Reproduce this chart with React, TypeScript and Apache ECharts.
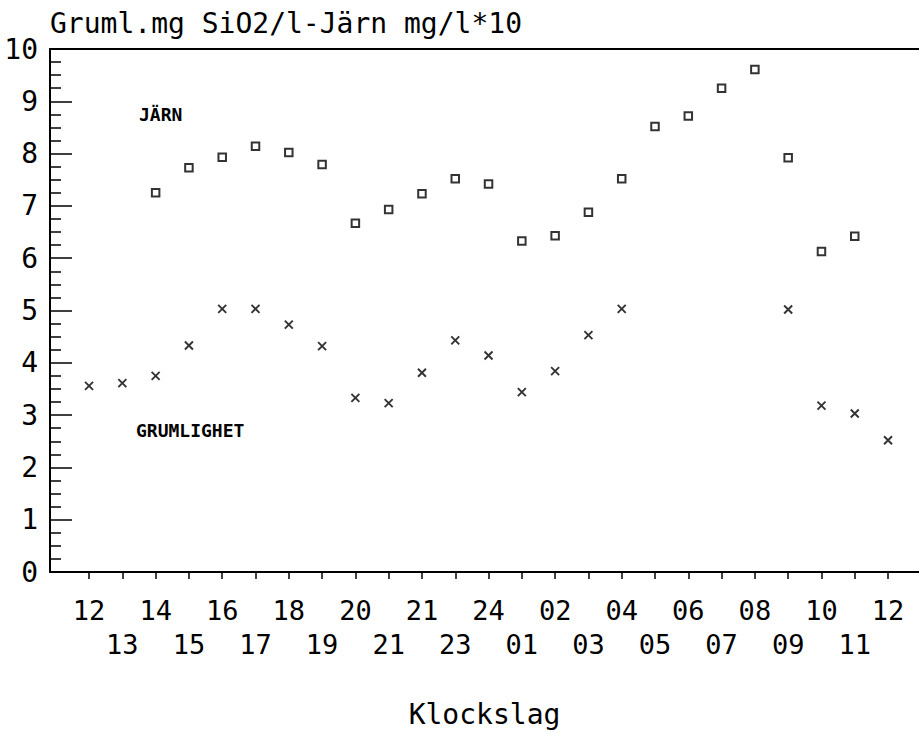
import React, { useEffect, useRef } from "react";
import * as echarts from "echarts";

const hourLabels = ["12", "13", "14", "15", "16", "17", "18", "19", "20", "21", "21", "23", "24", "01", "02", "03", "04", "05", "06", "07", "08", "09", "10", "11", "12"];
const jarnValues = [null, null, 7.25, 7.73, 7.93, 8.14, 8.02, 7.79, 6.67, 6.93, 7.23, 7.52, 7.42, 6.33, 6.43, 6.88, 7.52, 8.52, 8.72, 9.25, 9.61, 7.92, 6.13, 6.42, null];
const grumlighetValues = [3.56, 3.61, 3.75, 4.33, 5.03, 5.03, 4.73, 4.32, 3.33, 3.23, 3.81, 4.43, 4.14, 3.44, 3.84, 4.53, 5.03, null, null, null, null, 5.02, 3.18, 3.03, 2.52];
const yTicks = [0, 1, 2, 3, 4, 5, 6, 7, 8, 9, 10];

const MONO = "DejaVu Sans Mono";

function toPoints(vals: (number | null)[]) {
  const out: [number, number][] = [];
  vals.forEach((v, i) => {
    if (v !== null) out.push([i, v]);
  });
  return out;
}

export default function App() {
  const ref = useRef<HTMLDivElement>(null);
  useEffect(() => {
    if (!ref.current) return;
    const chart = echarts.init(ref.current, null, { renderer: "svg" });
    const idx = hourLabels.map((_, i) => i);
    const option: any = {
      animation: false,
      backgroundColor: "#fff",
      title: {
        text: "Gruml.mg SiO2/l-Järn mg/l*10",
        left: 50,
        top: 9,
        padding: 0,
        textStyle: { fontFamily: MONO, fontSize: 28, fontWeight: "normal", color: "#000" },
      },
      grid: { left: 50, top: 49, right: 0, bottom: 160, containLabel: false },
      xAxis: [
        {
          type: "value",
          min: -1.173,
          max: 24.93,
          name: "Klockslag",
          nameLocation: "middle",
          nameGap: 128,
          nameTextStyle: { fontFamily: MONO, fontSize: 28, color: "#000", verticalAlign: "top" },
          axisLine: { show: true, onZero: false, lineStyle: { color: "#000", width: 2 } },
          axisTick: { show: true, customValues: idx, length: 7, lineStyle: { color: "#000", width: 1.5 } },
          axisLabel: {
            customValues: idx,
            showMinLabel: true,
            showMaxLabel: true,
            hideOverlap: false,
            margin: 21,
            fontFamily: MONO,
            fontSize: 27,
            color: "#000",
            lineHeight: 34,
            formatter: (v: number) => {
              const i = Math.round(v);
              const s = hourLabels[i] ?? "";
              return i % 2 === 1 ? "\n" + s : s;
            },
          },
          splitLine: { show: false },
        },
        {
          type: "value",
          position: "top",
          min: -1.173,
          max: 24.93,
          axisLine: { show: true, onZero: false, lineStyle: { color: "#000", width: 2 } },
          axisTick: { show: false },
          axisLabel: { show: false },
          splitLine: { show: false },
        },
      ],
      yAxis: {
        type: "value",
        min: yTicks[0],
        max: yTicks[yTicks.length - 1],
        interval: 1,
        axisLine: { show: true, onZero: false, lineStyle: { color: "#000", width: 2 } },
        axisTick: { show: true, inside: true, length: 22, lineStyle: { color: "#000", width: 1.5 } },
        minorTick: { show: true, splitNumber: 4, length: 11, lineStyle: { color: "#000", width: 1.5 } },
        axisLabel: { margin: 12, fontFamily: MONO, fontSize: 28, color: "#000" },
        splitLine: { show: false },
      },
      graphic: [
        {
          type: "text",
          x: 139,
          y: 114,
          style: { text: "JÄRN", fontFamily: MONO, fontSize: 18, fontWeight: "bold", fill: "#000", verticalAlign: "middle" },
        },
        {
          type: "text",
          x: 136,
          y: 430,
          style: { text: "GRUMLIGHET", fontFamily: MONO, fontSize: 18, fontWeight: "bold", fill: "#000", verticalAlign: "middle" },
        },
      ],
      series: [
        {
          name: "JÄRN",
          type: "scatter",
          xAxisIndex: 0,
          data: toPoints(jarnValues),
          symbol: "emptyRect",
          symbolSize: 7.5,
          itemStyle: { color: "#000", borderColor: "#000", borderWidth: 1.9 },
        },
        {
          name: "GRUMLIGHET",
          type: "scatter",
          xAxisIndex: 0,
          data: toPoints(grumlighetValues),
          symbol: "path://M0,0L10,10M10,0L0,10",
          symbolSize: 8,
          itemStyle: { color: "rgba(0,0,0,0)", borderColor: "#000", borderWidth: 1.9 },
        },
      ],
    };
    chart.setOption(option);
    return () => chart.dispose();
  }, []);
  return (
    <div
      ref={ref}
      style={{ position: "fixed", left: 0, top: 0, width: 919, height: 733, background: "#fff" }}
    />
  );
}
